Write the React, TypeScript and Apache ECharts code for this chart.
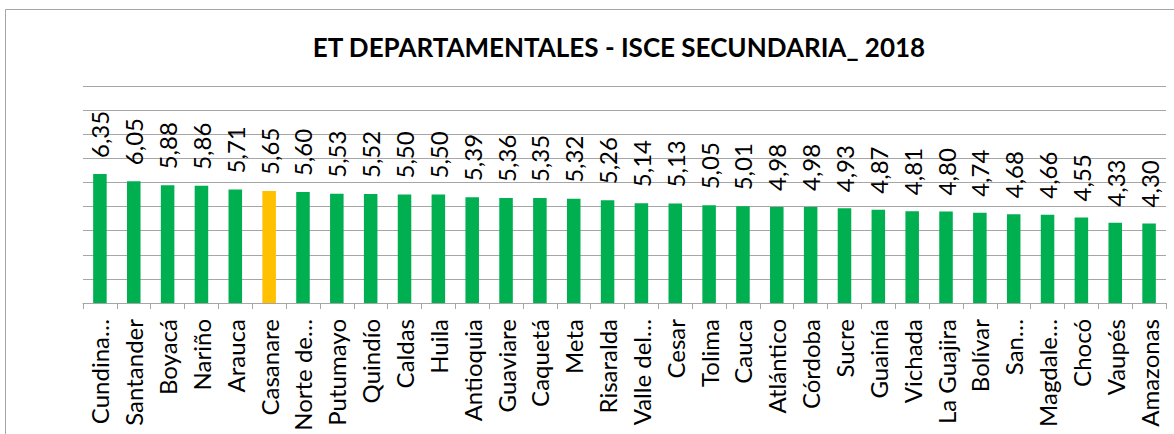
import React, { useEffect, useRef } from "react";
import * as echarts from "echarts";

const titleText = "ET DEPARTAMENTALES - ISCE SECUNDARIA_ 2018";

const categories = [
  "Cundina…", "Santander", "Boyacá", "Nariño", "Arauca", "Casanare", "Norte de…", "Putumayo",
  "Quindío", "Caldas", "Huila", "Antioquia", "Guaviare", "Caquetá", "Meta", "Risaralda",
  "Valle del…", "Cesar", "Tolima", "Cauca", "Atlántico", "Córdoba", "Sucre", "Guainía",
  "Vichada", "La Guajira", "Bolívar", "San…", "Magdale…", "Chocó", "Vaupés", "Amazonas",
];

const values = [
  6.35, 6.05, 5.88, 5.86, 5.71, 5.65, 5.60, 5.53,
  5.52, 5.50, 5.50, 5.39, 5.36, 5.35, 5.32, 5.26,
  5.14, 5.13, 5.05, 5.01, 4.98, 4.98, 4.93, 4.87,
  4.81, 4.80, 4.74, 4.68, 4.66, 4.55, 4.33, 4.30,
];

const highlighted = "Casanare";

const FONT = "Lato, 'Open Sans', sans-serif";

export default function App() {
  const ref = useRef<HTMLDivElement>(null);
  useEffect(() => {
    if (!ref.current) return;
    const chart = echarts.init(ref.current, undefined, { renderer: "svg" });
    chart.setOption({
      animation: false,
      backgroundColor: "#ffffff",
      title: {
        text: titleText,
        left: 614,
        textAlign: "center",
        top: 29,
        textStyle: { fontFamily: FONT, fontSize: 26, fontWeight: "bold", color: "#000000" },
      },
      graphic: [
        {
          type: "rect",
          shape: { x: 5.5, y: 9.5, width: 1300, height: 600 },
          style: { fill: "none", stroke: "#a6a6a6", lineWidth: 1 },
          silent: true,
        },
      ],
      grid: { left: 83, right: 8, top: 86, bottom: 131, containLabel: false },
      xAxis: {
        type: "category",
        data: categories,
        axisLine: { lineStyle: { color: "#a6a6a6", width: 1 } },
        axisTick: { show: true, length: 6, lineStyle: { color: "#a6a6a6" } },
        axisLabel: {
          rotate: 90,
          interval: 0,
          margin: 16,
          fontFamily: FONT,
          fontSize: 24,
          color: "#000000",
        },
      },
      yAxis: {
        type: "value",
        min: 1,
        max: 10,
        interval: 1,
        axisLabel: { show: false },
        axisLine: { show: false },
        axisTick: { show: false },
        splitLine: { lineStyle: { color: "#a6a6a6", width: 1 } },
      },
      series: [
        {
          type: "bar",
          barWidth: "40%",
          data: values.map((v, i) => ({
            value: v,
            itemStyle: { color: categories[i] === highlighted ? "#FFC000" : "#00B050" },
          })),
          label: {
            show: true,
            position: "top",
            rotate: 90,
            align: "left",
            verticalAlign: "middle",
            distance: 16,
            fontFamily: FONT,
            fontSize: 24,
            color: "#000000",
            formatter: (p: any) => p.value.toFixed(2).replace(".", ","),
          },
        },
      ],
    });
    return () => chart.dispose();
  }, []);
  return (
    <div
      ref={ref}
      style={{ position: "fixed", left: 0, top: 0, width: 1174, height: 434 }}
    />
  );
}
